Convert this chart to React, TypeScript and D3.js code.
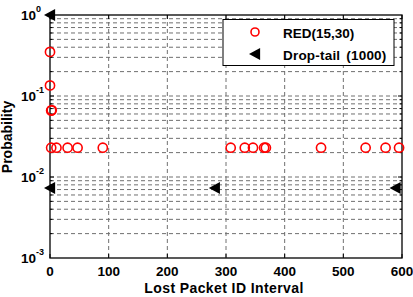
import React from 'react';
import * as d3 from 'd3';

// RED(15,30) lost packet interval probabilities
const redX = [0, 0, 2, 3, 2, 11, 30, 47, 90, 308, 332, 346, 365, 368, 462, 538, 572, 595];
const redY = [0.35, 0.135, 0.066, 0.067, 0.023, 0.023, 0.023, 0.023, 0.023, 0.023, 0.023, 0.023, 0.023, 0.023, 0.023, 0.023, 0.023, 0.023];

// Drop-tail (1000)
const dropX = [0, 0, 281, 589];
const dropY = [1, 0.0073, 0.0073, 0.0073];

const xTicks = [0, 100, 200, 300, 400, 500, 600];
const yExponents = [0, -1, -2, -3];

const W = 413;
const H = 297;
const margin = { top: 15, right: 11, bottom: 39, left: 50 };
const font = '"Liberation Sans", Arial, sans-serif';

const App = () => {
    const x = d3.scaleLinear().domain([0, 600]).range([margin.left, W - margin.right]);
    const y = d3.scaleLog().domain([1e-3, 1]).range([H - margin.bottom, margin.top]);

    const x0 = margin.left;
    const x1 = W - margin.right;
    const y0 = H - margin.bottom;
    const y1 = margin.top;

    // minor log grid values 2..9 per decade
    const minor: number[] = [];
    [-3, -2, -1].forEach(e => {
        for (let k = 2; k <= 9; k++) minor.push(k * Math.pow(10, e));
    });

    const dash = '4,3';
    const gridColor = '#707070';

    const tri = (cx: number, cy: number, s = 6) =>
        `M${cx - s},${cy} L${cx + s * 0.85},${cy - s} L${cx + s * 0.85},${cy + s} Z`;

    return (
        <svg width={W} height={H} style={{ position: 'absolute', left: 0, top: 0, background: '#fff' }}>
            {/* grid */}
            <g stroke={gridColor} strokeWidth={1} strokeDasharray={dash} fill="none">
                {xTicks.slice(1, -1).map(t => (
                    <line key={'gx' + t} x1={x(t)} x2={x(t)} y1={y1} y2={y0} />
                ))}
                {[...minor, 0.1, 0.01].map(v => (
                    <line key={'gy' + v} x1={x0} x2={x1} y1={y(v)} y2={y(v)} />
                ))}
            </g>

            {/* ticks */}
            <g stroke="#000" strokeWidth={1}>
                {xTicks.map(t => (
                    <g key={'tx' + t}>
                        <line x1={x(t)} x2={x(t)} y1={y0} y2={y0 - 4} />
                        <line x1={x(t)} x2={x(t)} y1={y1} y2={y1 + 4} />
                    </g>
                ))}
                {[...minor, 0.1, 0.01].map(v => (
                    <g key={'ty' + v}>
                        <line x1={x0} x2={x0 + (minor.includes(v) ? 2.5 : 4)} y1={y(v)} y2={y(v)} />
                        <line x1={x1} x2={x1 - (minor.includes(v) ? 2.5 : 4)} y1={y(v)} y2={y(v)} />
                    </g>
                ))}
            </g>

            {/* frame */}
            <rect x={x0} y={y1} width={x1 - x0} height={y0 - y1} fill="none" stroke="#000" strokeWidth={1.3} />

            {/* RED circles */}
            <g fill="none" stroke="#ff0000" strokeWidth={1.6}>
                {redX.map((v, i) => (
                    <circle key={'r' + i} cx={x(v)} cy={y(redY[i])} r={4.6} />
                ))}
            </g>

            {/* drop-tail triangles */}
            <g fill="#000">
                {dropX.map((v, i) => (
                    <path key={'d' + i} d={tri(x(v), y(dropY[i]))} />
                ))}
            </g>

            {/* x tick labels */}
            <g fontFamily={font} fontWeight="bold" fontSize={13.5} textAnchor="middle" fill="#000">
                {xTicks.map(t => (
                    <text key={'lx' + t} x={x(t)} y={y0 + 18}>{t}</text>
                ))}
            </g>

            {/* y tick labels */}
            <g fontFamily={font} fontWeight="bold" fill="#000">
                {yExponents.map(e => (
                    <g key={'ly' + e}>
                        <text x={36} y={y(Math.pow(10, e)) + 5} fontSize={13.5} textAnchor="end">10</text>
                        <text x={36} y={y(Math.pow(10, e)) - 3.5} fontSize={9} textAnchor="start">{e}</text>
                    </g>
                ))}
            </g>

            {/* axis labels */}
            <text x={224} y={H - 4} fontFamily={font} fontWeight="bold" fontSize={14} letterSpacing={0.4} textAnchor="middle">
                Lost Packet ID Interval
            </text>
            <text
                transform={`translate(12,137) rotate(-90)`}
                fontFamily={font}
                fontWeight="bold"
                fontSize={14}
                textAnchor="middle"
            >
                Probability
            </text>

            {/* legend */}
            <g>
                <rect x={223} y={19.5} width={171} height={46} fill="#fff" stroke="#000" strokeWidth={1} />
                <circle cx={255} cy={32} r={4} fill="none" stroke="#ff0000" strokeWidth={1.6} />
                <path d={tri(255, 54, 6)} fill="#000" />
                <g fontFamily={font} fontWeight="bold" fontSize={13.5} fill="#000">
                    <text x={283} y={37.5}>RED(15,30)</text>
                    <text x={283} y={59.5} letterSpacing={0.2}>
                        Drop-tail<tspan dx={6}>(1000)</tspan>
                    </text>
                </g>
            </g>
        </svg>
    );
};

export default App;
